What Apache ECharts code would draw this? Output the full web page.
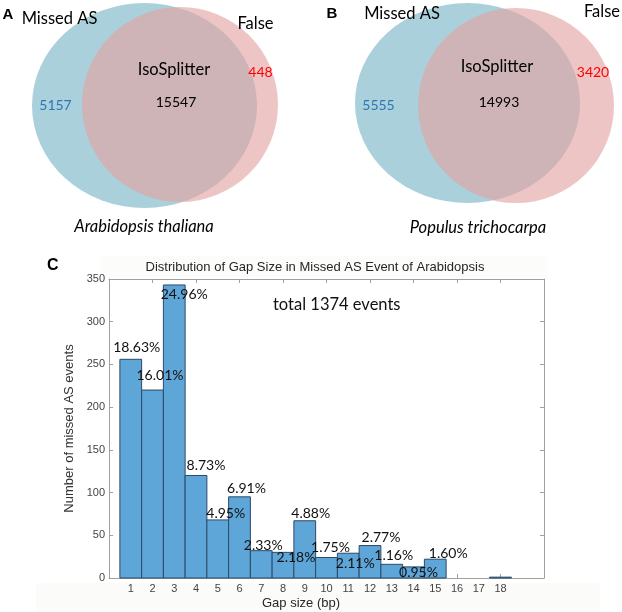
<!DOCTYPE html>
<html>
<head>
<meta charset="utf-8">
<script src="https://cdn.jsdelivr.net/npm/echarts@6/dist/echarts.min.js"></script>
<style>
html, body { margin: 0; padding: 0; background: #fff; }
#chart { width: 622px; height: 612px; }
</style>
</head>
<body>
<div id="chart"></div>
<script>
// Venn panels A / B
var vennLetters = ['A', 'B'];
var vennSpecies = ['Arabidopsis thaliana', 'Populus trichocarpa'];
var missedOnly = [5157, 5555];
var sharedIso = [15547, 14993];
var falseOnly = [448, 3420];

// panel C histogram
var gapSizes = [1, 2, 3, 4, 5, 6, 7, 8, 9, 10, 11, 12, 13, 14, 15, 16, 17, 18];
var gapCounts = [256, 220, 343, 120, 68, 95, 32, 30, 67, 24, 29, 38, 16, 13, 22, 0, 0, 1];
var gapPercents = ['18.63%', '16.01%', '24.96%', '8.73%', '4.95%', '6.91%', '2.33%', '2.18%',
    '4.88%', '1.75%', '2.11%', '2.77%', '1.16%', '0.95%', '1.60%', '', '', ''];
var yTicks = [0, 50, 100, 150, 200, 250, 300, 350];

// layout only (pixels on the overlay grid)
var vennLayout = [
    {blue: [144.5, 105.5, 112.5, 102.5], red: [180, 104.5, 98, 97.5], letter: [8, 15],
     missed: [59.5, 19], fals: [255.5, 24], iso: [174, 70], mid: [176, 102], left: [55.5, 105],
     right: [260.5, 72], species: [144, 227]},
    {blue: [467.5, 103, 112.5, 100], red: [516, 105.5, 98, 97.5], letter: [332, 14],
     missed: [402, 14], fals: [602, 12], iso: [497, 67], mid: [499, 102], left: [378.5, 105],
     right: [593, 72], species: [478, 228]}
];
// where each percent label sits relative to its bar top (dx, dy)
var labelNudge = [[6, -12], [7.5, -15], [10, 10], [10, -10], [8, -6], [7, -8], [2, -5], [13, 5],
    [6, -7.5], [4, -10], [7, 10], [11, -8], [2, -9], [5, 6], [13, -6], [0, 0], [0, 0], [0, 0]];

var calibri = 'Lato, "Open Sans", sans-serif';
var arial = '"Liberation Sans", Arial, sans-serif';

var chart = echarts.init(document.getElementById('chart'), null, {renderer: 'canvas'});

function renderVenn(params, api) {
    var i = api.value(0);
    var L = vennLayout[i];
    function ell(g, fill, op) {
        var c = api.coord([g[0], g[1]]);
        var s = api.size([g[2] * 2, g[3] * 2], [g[0], g[1]]);
        return {type: 'circle', x: c[0], y: c[1], scaleX: s[0] / s[1],
            shape: {cx: 0, cy: 0, r: s[1] / 2}, style: {fill: fill, opacity: op}};
    }
    function txt(p, text, font, color) {
        var c = api.coord(p);
        return {type: 'text', x: c[0], y: c[1],
            style: {text: text, font: font, fill: color, align: 'center', verticalAlign: 'middle'}};
    }
    return {type: 'group', children: [
        ell(L.blue, 'rgb(170,209,219)', 1),
        ell(L.red, 'rgb(228,162,162)', 0.62),
        txt(L.letter, vennLetters[i], 'bold 15px ' + arial, '#000'),
        txt(L.missed, 'Missed AS', '16.5px ' + calibri, '#000'),
        txt(L.fals, 'False', '16.5px ' + calibri, '#000'),
        txt(L.iso, 'IsoSplitter', '16.5px ' + calibri, '#000'),
        txt(L.mid, String(api.value(2)), '14px ' + calibri, '#000'),
        txt(L.left, String(api.value(1)), '14px ' + calibri, '#2e75b6'),
        txt(L.right, String(api.value(3)), '14px ' + calibri, '#ff0000'),
        txt(L.species, vennSpecies[i], 'italic 16.5px ' + calibri, '#000')
    ]};
}

function renderBar(params, api) {
    var x = api.value(0), v = api.value(1);
    if (!(v > 0)) return null;
    var a = api.coord([x - 0.5, v]);
    var b = api.coord([x + 0.5, 0]);
    return {type: 'rect', shape: {x: a[0], y: a[1], width: b[0] - a[0], height: b[1] - a[1]},
        style: {fill: '#5ea5d8', stroke: '#2c4a68', lineWidth: 1}};
}

function renderPct(params, api) {
    var i = params.dataIndex;
    if (!gapPercents[i]) return null;
    var c = api.coord([api.value(0), api.value(1)]);
    var n = labelNudge[i];
    return {type: 'text', x: c[0] + n[0], y: c[1] + n[1],
        style: {text: gapPercents[i], font: '14px ' + calibri, fill: '#111',
            align: 'center', verticalAlign: 'middle'}};
}

var vennData = vennLetters.map(function (l, i) {
    return [i, missedOnly[i], sharedIso[i], falseOnly[i]];
});
var histData = gapSizes.map(function (g, i) { return [g, gapCounts[i]]; });

var axisGray = '#a0a0a0';
var tickStyle = {show: true, inside: true, length: 4, lineStyle: {color: axisGray}};
var lineStyle = {show: true, onZero: false, lineStyle: {color: axisGray}};
var option = {
    animation: false,
    backgroundColor: '#fff',
    grid: [
        {left: 109, top: 279, width: 435, height: 299},
        {left: 0, top: 0, right: 0, bottom: 0}
    ],
    xAxis: [
        {gridIndex: 0, type: 'value', min: 0, max: 20, interval: 2,
         axisLine: lineStyle, axisTick: tickStyle,
         axisLabel: {customValues: gapSizes, margin: 5, fontSize: 11, fontFamily: arial, color: '#444'},
         splitLine: {show: false}},
        {gridIndex: 0, type: 'value', position: 'top', min: 0, max: 20, interval: 2,
         axisLine: lineStyle, axisTick: tickStyle,
         axisLabel: {show: false}, splitLine: {show: false}},
        {gridIndex: 1, type: 'value', min: 0, max: 622, show: false}
    ],
    yAxis: [
        {gridIndex: 0, type: 'value', min: yTicks[0], max: yTicks[yTicks.length - 1], interval: 50,
         name: 'Number of missed AS events', nameLocation: 'middle', nameGap: 30,
         nameTextStyle: {fontSize: 13, fontFamily: arial, color: '#333'},
         axisLine: lineStyle, axisTick: tickStyle,
         axisLabel: {margin: 4, fontSize: 11, fontFamily: arial, color: '#444'},
         splitLine: {show: false}},
        {gridIndex: 0, type: 'value', position: 'right', min: 0, max: 350, interval: 50,
         axisLine: lineStyle, axisTick: tickStyle,
         axisLabel: {show: false}, splitLine: {show: false}},
        {gridIndex: 1, type: 'value', min: 0, max: 612, inverse: true, show: false}
    ],
    graphic: [
        {type: 'rect', left: 100, top: 256, z: -10, shape: {width: 448, height: 22}, style: {fill: '#fcfcfa'}},
        {type: 'rect', left: 36, top: 583, z: -10, shape: {width: 564, height: 29}, style: {fill: '#fbfbf9'}},
        {type: 'text', left: 47, top: 258, style: {text: 'C', font: 'bold 16px ' + arial, fill: '#000'}},
        {type: 'text', x: 315, y: 267, style: {text: 'Distribution of Gap Size in Missed AS Event of Arabidopsis',
            font: '13px ' + arial, fill: '#262626', align: 'center', verticalAlign: 'middle'}},
        {type: 'text', x: 273, y: 305, z: 10, style: {text: 'total 1374 events',
            font: '16.5px ' + calibri, fill: '#111', verticalAlign: 'middle'}},
        {type: 'text', x: 301, y: 603, style: {text: 'Gap size (bp)',
            font: '13px ' + arial, fill: '#262626', align: 'center', verticalAlign: 'middle'}}
    ],
    series: [
        {type: 'custom', xAxisIndex: 2, yAxisIndex: 2, data: vennData, renderItem: renderVenn,
         encode: {x: 0, y: 1}, silent: true},
        {type: 'custom', xAxisIndex: 0, yAxisIndex: 0, data: histData, renderItem: renderBar,
         encode: {x: 0, y: 1}, z: 2},
        {type: 'custom', xAxisIndex: 0, yAxisIndex: 0, data: histData, renderItem: renderPct,
         encode: {x: 0, y: 1}, z: 5}
    ]
};
chart.setOption(option);
</script>
</body>
</html>
